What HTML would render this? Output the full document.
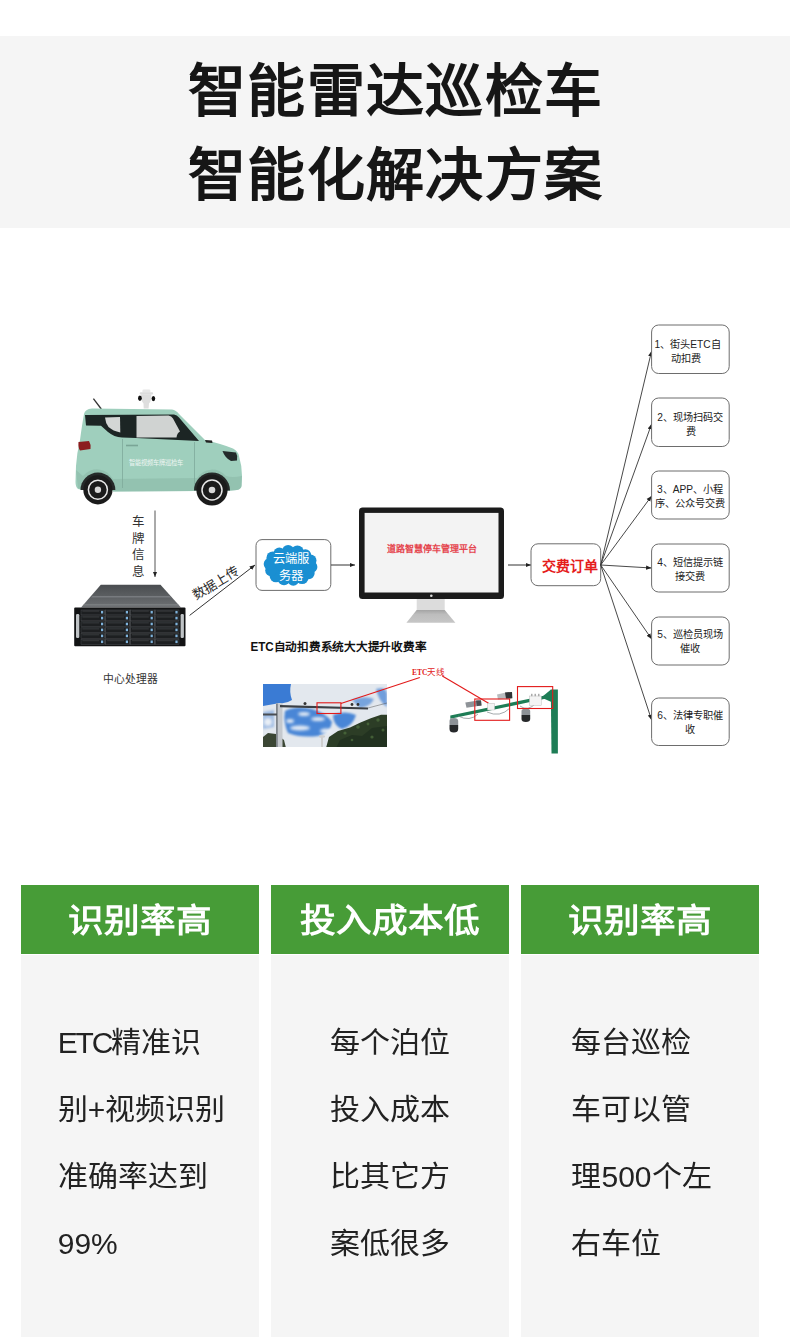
<!DOCTYPE html>
<html lang="zh-CN"><head><meta charset="utf-8">
<style>
*{margin:0;padding:0;box-sizing:border-box}
html,body{width:790px;height:1337px;background:#fff;overflow:hidden}
body{font-family:"Liberation Sans",sans-serif;color:#1c1c1c;position:relative}
.band{position:absolute;left:0;top:36px;width:790px;height:192px;background:#f5f5f5}
.t{position:absolute;left:0;width:790px;text-align:center;font-weight:bold;font-size:58px;line-height:60px;letter-spacing:1.4px;text-indent:1.4px;color:#161616;white-space:nowrap;transform:scaleY(0.975)}
.col{position:absolute;top:885px;width:238px;height:452px}
.hd{height:69px;background:#479c37;color:#fff;text-align:center;font-size:35.6px;font-weight:bold;line-height:69px;overflow:hidden}
.hd span{display:inline-block;transform:scaleY(0.915);transform-origin:50% 50%;position:relative;top:2px}
.bd{position:absolute;top:70px;left:0;width:238px;height:382px;background:#f5f5f5;text-align:center}
.bd .in{display:inline-block;text-align:left;font-size:30px;line-height:69.4px;margin-top:53.5px;color:#222;position:relative;transform:scaleY(0.97);transform-origin:50% 0}
#dg{position:absolute;left:0;top:228px}
</style></head><body>
<div class="band"></div>
<div class="t" style="top:61.2px">智能雷达巡检车</div>
<div class="t" style="top:144.8px">智能化解决方案</div>

<svg id="dg" width="790" height="640" viewBox="0 228 790 640">
<defs>
<marker id="ah" viewBox="0 0 10 10" refX="10" refY="5" markerWidth="5.5" markerHeight="5.5" orient="auto" markerUnits="userSpaceOnUse"><path d="M0,1 L10,5 L0,9 z" fill="#222"/></marker>
<linearGradient id="skyg" x1="0" y1="0" x2="0" y2="1"><stop offset="0" stop-color="#3c7fd0"/><stop offset="1" stop-color="#6aa6e0"/></linearGradient>
<filter id="bl1" x="-20%" y="-20%" width="140%" height="140%"><feGaussianBlur stdDeviation="1.6"/></filter>
<filter id="bl05"><feGaussianBlur stdDeviation="0.5"/></filter>
<clipPath id="phc"><rect x="263" y="684" width="124" height="63"/></clipPath>
</defs>
<!-- CAR -->
<g id="car">
<line x1="93.4" y1="398.7" x2="101.3" y2="409" stroke="#333" stroke-width="1.3"/>
<!-- camera -->
<rect x="142.4" y="389.6" width="8" height="3" rx="1.2" fill="#e6e6e6"/>
<rect x="139.7" y="392.3" width="13.4" height="2.2" rx="1" fill="#dcdcdc"/>
<path d="M141,394.3 L151.3,394.3 Q152,400 149,403.6 L148.6,408.5 L143.7,408.5 L143.5,403.6 Q140.5,400 141,394.3 Z" fill="#dedede"/>
<ellipse cx="139.9" cy="398.3" rx="1.9" ry="2.7" fill="#111"/>
<ellipse cx="153.4" cy="398.6" rx="1.8" ry="2.6" fill="#111"/>
<!-- body -->
<path d="M84,414 Q85,409 92,408.5 L172,409.5 Q176,410 179,414 L205,440 Q222,444 233,448.5 Q238,451 239,456 Q242,466 242,476 L241.5,486 Q241,489 237,490 L226,491 A16,16 0 0 0 197,491 L113,491.5 A16,16 0 0 0 83,490 L78,489 Q75.5,487 75.5,482 L76,466 Q77,452 80,440 Q82,425 84,414 Z" fill="#9fcfbd"/>
<!-- darker lower shading -->
<path d="M76,470 Q77,480 78,488 L83,490 A16,16 0 0 1 113,491.5 L197,491 A16,16 0 0 1 226,491 L237,490 Q241,489 241.5,486 L242,476 Q232,478 226,476 A18,18 0 0 0 197,478 L113,479 A18,18 0 0 0 83,476 Z" fill="#8fbcab" opacity="0.7"/>
<!-- windows band -->
<path d="M85,415 L174,414.5 Q177,415 179,417.5 L199,441 L136,438 L122,437.5 Q114,437 108,432 L101,425.8 L86,425.5 Z" fill="#1c2524"/>
<path d="M105,417.5 L120,417 L120.3,432.5 Q113,431 108.5,427 Q105.5,423 105,417.5 Z" fill="#d3d6d5"/>
<path d="M136.5,416 L168.5,415.6 Q171.5,416 173,418.5 L180,431.5 Q177,433 176.5,437.6 L136.5,437.6 Z" fill="#d0d3d2"/>
<!-- tail light -->
<path d="M78.5,442 L89,441 Q91,444 90.5,449 L80,450.5 Q78,448 78.5,442 Z" fill="#8b1d1f"/>
<!-- headlight -->
<path d="M222.5,451 L236,452.5 Q238,456 237,460.5 L231,461 Q225,458 222.5,451 Z" fill="#242b2b"/>
<!-- mirror -->
<path d="M205,440 L212,440.5 L212.5,443 L206,442.5 Z" fill="#222"/>
<!-- door lines -->
<path d="M122.5,439 L122.5,488 M194.5,442 L194.5,490" stroke="#7fa99a" stroke-width="0.8" fill="none"/>
<path d="M126,445.5 L138,445.5" stroke="#7aa596" stroke-width="1.6"/>
<!-- car text -->
<text x="128.5" y="465" font-size="7.2" fill="#eef5f2" textLength="55" lengthAdjust="spacingAndGlyphs">智能视频车牌巡检车</text>
<!-- wheels -->
<path d="M80.5,490 A17.4,17.4 0 0 1 115.3,490 Z" fill="#262a29"/>
<path d="M194,490.5 A18,18 0 0 1 230,490.5 Z" fill="#262a29"/>
<circle cx="97.9" cy="489.8" r="14.6" fill="#1b1b1b"/>
<circle cx="97.9" cy="489.8" r="9.5" fill="none" stroke="#e8e8e8" stroke-width="1.5"/>
<circle cx="97.9" cy="489.8" r="3.2" fill="#d8d8d8"/>
<circle cx="212" cy="490" r="15.6" fill="#1b1b1b"/>
<circle cx="212" cy="490" r="10" fill="none" stroke="#e8e8e8" stroke-width="1.5"/>
<circle cx="212" cy="490" r="3.3" fill="#d8d8d8"/>
</g>

<!-- plate info arrow -->
<line x1="155" y1="510.5" x2="155" y2="577" stroke="#555" stroke-width="1" marker-end="url(#ah)"/>
<g font-size="12.5" fill="#333" text-anchor="middle">
<text x="138.2" y="526.2">车</text><text x="138.2" y="542.7">牌</text><text x="138.2" y="559.2">信</text><text x="138.2" y="575.7">息</text>
</g>
<!-- SERVER -->
<g id="server">
<linearGradient id="stg" x1="0" y1="0" x2="0" y2="1"><stop offset="0" stop-color="#4a4d50"/><stop offset="0.55" stop-color="#5d6063"/><stop offset="1" stop-color="#6e7174"/></linearGradient>
<path d="M100.8,584.7 L160.5,584.7 L181,607.5 L81,607.5 Z" fill="url(#stg)"/>
<path d="M92.5,596 L169.5,596 L171,597.6 L91,597.6 Z" fill="#85888b" opacity="0.7"/>
<path d="M84,604 L178,604 L179.5,605.6 L82.5,605.6 Z" fill="#8a8d90" opacity="0.5"/>
<rect x="74.2" y="607.5" width="111.3" height="38.8" rx="1" fill="#121314"/>
<rect x="81.0" y="610.0" width="23.6" height="4.9" fill="#1d1f21" stroke="#4a4d50" stroke-width="0.5"/>
<rect x="101.0" y="610.9" width="2.2" height="2.6" fill="#7fb3dc"/>
<line x1="82.4" y1="611.1" x2="99.2" y2="611.1" stroke="#55585b" stroke-width="0.5"/>
<rect x="81.0" y="615.9" width="23.6" height="4.9" fill="#1d1f21" stroke="#4a4d50" stroke-width="0.5"/>
<rect x="101.0" y="616.8" width="2.2" height="2.6" fill="#7fb3dc"/>
<line x1="82.4" y1="617.0" x2="99.2" y2="617.0" stroke="#55585b" stroke-width="0.5"/>
<rect x="81.0" y="621.8" width="23.6" height="4.9" fill="#1d1f21" stroke="#4a4d50" stroke-width="0.5"/>
<rect x="101.0" y="622.7" width="2.2" height="2.6" fill="#7fb3dc"/>
<line x1="82.4" y1="622.9" x2="99.2" y2="622.9" stroke="#55585b" stroke-width="0.5"/>
<rect x="81.0" y="627.8" width="23.6" height="4.9" fill="#1d1f21" stroke="#4a4d50" stroke-width="0.5"/>
<rect x="101.0" y="628.6" width="2.2" height="2.6" fill="#7fb3dc"/>
<line x1="82.4" y1="628.9" x2="99.2" y2="628.9" stroke="#55585b" stroke-width="0.5"/>
<rect x="81.0" y="633.7" width="23.6" height="4.9" fill="#1d1f21" stroke="#4a4d50" stroke-width="0.5"/>
<rect x="101.0" y="634.6" width="2.2" height="2.6" fill="#7fb3dc"/>
<line x1="82.4" y1="634.8" x2="99.2" y2="634.8" stroke="#55585b" stroke-width="0.5"/>
<rect x="81.0" y="639.6" width="23.6" height="4.9" fill="#1d1f21" stroke="#4a4d50" stroke-width="0.5"/>
<rect x="101.0" y="640.5" width="2.2" height="2.6" fill="#7fb3dc"/>
<line x1="82.4" y1="640.7" x2="99.2" y2="640.7" stroke="#55585b" stroke-width="0.5"/>
<rect x="105.8" y="610.0" width="23.6" height="4.9" fill="#1d1f21" stroke="#4a4d50" stroke-width="0.5"/>
<rect x="125.8" y="610.9" width="2.2" height="2.6" fill="#7fb3dc"/>
<line x1="107.2" y1="611.1" x2="124.0" y2="611.1" stroke="#55585b" stroke-width="0.5"/>
<rect x="105.8" y="615.9" width="23.6" height="4.9" fill="#1d1f21" stroke="#4a4d50" stroke-width="0.5"/>
<rect x="125.8" y="616.8" width="2.2" height="2.6" fill="#7fb3dc"/>
<line x1="107.2" y1="617.0" x2="124.0" y2="617.0" stroke="#55585b" stroke-width="0.5"/>
<rect x="105.8" y="621.8" width="23.6" height="4.9" fill="#1d1f21" stroke="#4a4d50" stroke-width="0.5"/>
<rect x="125.8" y="622.7" width="2.2" height="2.6" fill="#7fb3dc"/>
<line x1="107.2" y1="622.9" x2="124.0" y2="622.9" stroke="#55585b" stroke-width="0.5"/>
<rect x="105.8" y="627.8" width="23.6" height="4.9" fill="#1d1f21" stroke="#4a4d50" stroke-width="0.5"/>
<rect x="125.8" y="628.6" width="2.2" height="2.6" fill="#7fb3dc"/>
<line x1="107.2" y1="628.9" x2="124.0" y2="628.9" stroke="#55585b" stroke-width="0.5"/>
<rect x="105.8" y="633.7" width="23.6" height="4.9" fill="#1d1f21" stroke="#4a4d50" stroke-width="0.5"/>
<rect x="125.8" y="634.6" width="2.2" height="2.6" fill="#7fb3dc"/>
<line x1="107.2" y1="634.8" x2="124.0" y2="634.8" stroke="#55585b" stroke-width="0.5"/>
<rect x="105.8" y="639.6" width="23.6" height="4.9" fill="#1d1f21" stroke="#4a4d50" stroke-width="0.5"/>
<rect x="125.8" y="640.5" width="2.2" height="2.6" fill="#7fb3dc"/>
<line x1="107.2" y1="640.7" x2="124.0" y2="640.7" stroke="#55585b" stroke-width="0.5"/>
<rect x="130.6" y="610.0" width="23.6" height="4.9" fill="#1d1f21" stroke="#4a4d50" stroke-width="0.5"/>
<rect x="150.6" y="610.9" width="2.2" height="2.6" fill="#7fb3dc"/>
<line x1="132.0" y1="611.1" x2="148.8" y2="611.1" stroke="#55585b" stroke-width="0.5"/>
<rect x="130.6" y="615.9" width="23.6" height="4.9" fill="#1d1f21" stroke="#4a4d50" stroke-width="0.5"/>
<rect x="150.6" y="616.8" width="2.2" height="2.6" fill="#7fb3dc"/>
<line x1="132.0" y1="617.0" x2="148.8" y2="617.0" stroke="#55585b" stroke-width="0.5"/>
<rect x="130.6" y="621.8" width="23.6" height="4.9" fill="#1d1f21" stroke="#4a4d50" stroke-width="0.5"/>
<rect x="150.6" y="622.7" width="2.2" height="2.6" fill="#7fb3dc"/>
<line x1="132.0" y1="622.9" x2="148.8" y2="622.9" stroke="#55585b" stroke-width="0.5"/>
<rect x="130.6" y="627.8" width="23.6" height="4.9" fill="#1d1f21" stroke="#4a4d50" stroke-width="0.5"/>
<rect x="150.6" y="628.6" width="2.2" height="2.6" fill="#7fb3dc"/>
<line x1="132.0" y1="628.9" x2="148.8" y2="628.9" stroke="#55585b" stroke-width="0.5"/>
<rect x="130.6" y="633.7" width="23.6" height="4.9" fill="#1d1f21" stroke="#4a4d50" stroke-width="0.5"/>
<rect x="150.6" y="634.6" width="2.2" height="2.6" fill="#7fb3dc"/>
<line x1="132.0" y1="634.8" x2="148.8" y2="634.8" stroke="#55585b" stroke-width="0.5"/>
<rect x="130.6" y="639.6" width="23.6" height="4.9" fill="#1d1f21" stroke="#4a4d50" stroke-width="0.5"/>
<rect x="150.6" y="640.5" width="2.2" height="2.6" fill="#7fb3dc"/>
<line x1="132.0" y1="640.7" x2="148.8" y2="640.7" stroke="#55585b" stroke-width="0.5"/>
<rect x="155.4" y="610.0" width="23.6" height="4.9" fill="#1d1f21" stroke="#4a4d50" stroke-width="0.5"/>
<rect x="175.4" y="610.9" width="2.2" height="2.6" fill="#7fb3dc"/>
<line x1="156.8" y1="611.1" x2="173.6" y2="611.1" stroke="#55585b" stroke-width="0.5"/>
<rect x="155.4" y="615.9" width="23.6" height="4.9" fill="#1d1f21" stroke="#4a4d50" stroke-width="0.5"/>
<rect x="175.4" y="616.8" width="2.2" height="2.6" fill="#7fb3dc"/>
<line x1="156.8" y1="617.0" x2="173.6" y2="617.0" stroke="#55585b" stroke-width="0.5"/>
<rect x="155.4" y="621.8" width="23.6" height="4.9" fill="#1d1f21" stroke="#4a4d50" stroke-width="0.5"/>
<rect x="175.4" y="622.7" width="2.2" height="2.6" fill="#7fb3dc"/>
<line x1="156.8" y1="622.9" x2="173.6" y2="622.9" stroke="#55585b" stroke-width="0.5"/>
<rect x="155.4" y="627.8" width="23.6" height="4.9" fill="#1d1f21" stroke="#4a4d50" stroke-width="0.5"/>
<rect x="175.4" y="628.6" width="2.2" height="2.6" fill="#7fb3dc"/>
<line x1="156.8" y1="628.9" x2="173.6" y2="628.9" stroke="#55585b" stroke-width="0.5"/>
<rect x="155.4" y="633.7" width="23.6" height="4.9" fill="#1d1f21" stroke="#4a4d50" stroke-width="0.5"/>
<rect x="175.4" y="634.6" width="2.2" height="2.6" fill="#7fb3dc"/>
<line x1="156.8" y1="634.8" x2="173.6" y2="634.8" stroke="#55585b" stroke-width="0.5"/>
<rect x="155.4" y="639.6" width="23.6" height="4.9" fill="#1d1f21" stroke="#4a4d50" stroke-width="0.5"/>
<rect x="175.4" y="640.5" width="2.2" height="2.6" fill="#7fb3dc"/>
<line x1="156.8" y1="640.7" x2="173.6" y2="640.7" stroke="#55585b" stroke-width="0.5"/>
<line x1="105.2" y1="609.5" x2="105.2" y2="645" stroke="#5a5d60" stroke-width="0.7"/>
<line x1="130.0" y1="609.5" x2="130.0" y2="645" stroke="#5a5d60" stroke-width="0.7"/>
<line x1="154.8" y1="609.5" x2="154.8" y2="645" stroke="#5a5d60" stroke-width="0.7"/>
<rect x="76" y="614" width="3.3" height="24" rx="1.2" fill="#bfc3c6"/>
<rect x="180.6" y="614" width="3.3" height="24" rx="1.2" fill="#bfc3c6"/>
</g>
<!-- cpu label -->
<text x="130.6" y="683.2" font-size="10.8" fill="#333" text-anchor="middle">中心处理器</text>
<!-- data upload line -->
<line x1="189.6" y1="615.4" x2="255" y2="565" stroke="#333" stroke-width="1" marker-end="url(#ah)"/>
<text transform="translate(195.6,600.4) rotate(-31)" font-size="13" fill="#2a2a2a">数据上传</text>
<!-- cloud box -->
<rect x="256" y="539.6" width="74.8" height="50.8" rx="6" fill="#fff" stroke="#6d6d6d" stroke-width="1"/>
<g fill="#1a8fd2">
<ellipse cx="290.7" cy="565.5" rx="22" ry="16"/>
<circle cx="311.6" cy="566.9" r="5.8"/>
<circle cx="308.6" cy="573.1" r="6.1"/>
<circle cx="302.1" cy="577.7" r="6.4"/>
<circle cx="293.3" cy="579.9" r="5.8"/>
<circle cx="284.0" cy="579.2" r="6.1"/>
<circle cx="276.0" cy="575.9" r="6.4"/>
<circle cx="271.0" cy="570.5" r="5.8"/>
<circle cx="269.8" cy="564.1" r="6.1"/>
<circle cx="272.8" cy="557.9" r="6.4"/>
<circle cx="279.3" cy="553.3" r="5.8"/>
<circle cx="288.1" cy="551.1" r="6.1"/>
<circle cx="297.4" cy="551.8" r="6.4"/>
<circle cx="305.4" cy="555.1" r="5.8"/>
<circle cx="310.4" cy="560.5" r="6.1"/>
</g>
<g font-size="12.3" fill="#fff" text-anchor="middle"><text x="291" y="562.6">云端服</text><text x="290.8" y="579.6">务器</text></g>
<line x1="331" y1="565" x2="355" y2="565" stroke="#333" stroke-width="1" marker-end="url(#ah)"/>
<!-- MONITOR -->
<rect x="359" y="507.5" width="145" height="91.5" rx="3.5" fill="#1b1b1b"/>
<rect x="364.6" y="512.9" width="133.9" height="79.6" fill="#f3f3f3"/>
<circle cx="431.3" cy="595.8" r="1.3" fill="#ddd"/>
<linearGradient id="bsg" x1="0" y1="0" x2="0" y2="1"><stop offset="0" stop-color="#a4a4a4"/><stop offset="0.35" stop-color="#bdbdbd"/><stop offset="1" stop-color="#c6c6c6"/></linearGradient>
<path d="M416.7,599 L444.7,599 L444.7,611 L416.7,611 Z" fill="#dcdcdc"/>
<path d="M416.7,610 L444.7,610 L455.4,622.7 L406.4,622.7 Z" fill="url(#bsg)"/>
<text x="431.7" y="552.3" font-size="9" fill="#e5464f" text-anchor="middle" font-weight="bold">道路智慧停车管理平台</text>
<line x1="508" y1="565" x2="531" y2="565" stroke="#333" stroke-width="1" marker-end="url(#ah)"/>
<!-- ORDER -->
<rect x="531" y="543.8" width="69.7" height="41.9" rx="7" fill="#fff" stroke="#6d6d6d" stroke-width="1"/>
<text x="570" y="571" font-size="14" fill="#e51c1c" text-anchor="middle" font-weight="bold">交费订单</text>
<!-- FAN -->
<g stroke="#333" stroke-width="0.9" marker-end="url(#ah)">
<line x1="600.7" y1="565" x2="651.6" y2="351"/>
<line x1="600.7" y1="565" x2="651.6" y2="424"/>
<line x1="600.7" y1="565" x2="651.6" y2="496"/>
<line x1="600.7" y1="565" x2="651.6" y2="568"/>
<line x1="600.7" y1="565" x2="651.6" y2="639"/>
<line x1="600.7" y1="565" x2="651.6" y2="720"/>
</g>
<g fill="#fff" stroke="#6d6d6d" stroke-width="1">
<rect x="651.6" y="325" width="77.6" height="48.5" rx="7"/>
<rect x="651.6" y="398" width="77.6" height="48.5" rx="7"/>
<rect x="651.6" y="471" width="77.6" height="48" rx="7"/>
<rect x="651.6" y="544" width="77.6" height="48" rx="7"/>
<rect x="651.6" y="617" width="77.6" height="48" rx="7"/>
<rect x="651.6" y="698" width="77.6" height="47.5" rx="7"/>
</g>
<g font-size="10.2" fill="#222" text-anchor="middle">
<text x="687.5" y="347.5">1、街头ETC自</text><text x="686" y="361.5">动扣费</text>
<text x="690" y="420.5">2、现场扫码交</text><text x="690.5" y="434.5">费</text>
<text x="690" y="492.5">3、APP、小程</text><text x="690" y="506.5">序、公众号交费</text>
<text x="690" y="565.5">4、短信提示链</text><text x="690" y="579.5">接交费</text>
<text x="690" y="638.2">5、巡检员现场</text><text x="690" y="652.2">催收</text>
<text x="690" y="718.8">6、法律专职催</text><text x="690" y="732.8">收</text>
</g>
<!-- ETC title -->
<text x="250.4" y="651" font-size="11.9" font-weight="bold" fill="#111" textLength="176" lengthAdjust="spacingAndGlyphs">ETC自动扣费系统大大提升收费率</text>
<!-- left photo -->
<g clip-path="url(#phc)">
<rect x="263" y="684" width="124" height="63" fill="#e3e8ee"/>
<path d="M263,684 L291,684 Q289,692 292,700 Q286,704 280,703 L263,706 Z" fill="#3a7bd4"/>
<filter id="bl12"><feGaussianBlur stdDeviation="1.2"/></filter>
<g fill="#4a86d6" filter="url(#bl12)">
<path d="M285,711 Q296,705 312,709 Q326,713 332,722 Q331,732 318,736 Q300,738 288,733 Q283,722 285,711 Z"/>
<path d="M333,715 Q345,710 356,715 Q353,726 342,729 Q333,725 333,715 Z"/>
<path d="M263,712 L274,710 L274,727 L263,729 Z" opacity="0.45"/>
<path d="M352,700 Q364,695 374,699 Q370,707 360,708 Z" opacity="0.7"/>
<path d="M376,689 Q386,686 387,694 L387,707 Q379,702 376,689 Z" opacity="0.75"/>
</g>
<g fill="#eef2f7" filter="url(#bl1)" opacity="0.95">
<ellipse cx="300" cy="728" rx="10" ry="2.5"/><ellipse cx="318" cy="719" rx="7" ry="2"/><ellipse cx="268" cy="722" rx="4" ry="4"/>
<ellipse cx="304" cy="714" rx="6" ry="2"/><ellipse cx="326" cy="731" rx="6" ry="2.5"/><ellipse cx="290" cy="721" rx="4" ry="2"/>
</g>
<path d="M326,748 L329,737 L338,731 L350,727.6 L360.5,722.4 L370.8,718.2 L381,714.7 L387,714.7 L387,748 Z" fill="#2c3d26"/>
<path d="M336,748 L340,740 L352,735 L362,736 L372,728 L387,726 L387,748 Z" fill="#223220"/>
<path d="M263,737 L268,733 L276,734 L284,740 L286,748 L263,748 Z" fill="#3b4634"/>
<g fill="#4b6a3c" opacity="0.8"><circle cx="345" cy="733" r="1.6"/><circle cx="358" cy="727" r="1.8"/><circle cx="368" cy="724" r="1.4"/><circle cx="378" cy="720" r="1.7"/><circle cx="383" cy="730" r="1.5"/><circle cx="352" cy="740" r="1.3"/><circle cx="372" cy="737" r="1.6"/></g>
<rect x="276" y="703.5" width="6.5" height="44" fill="#c5c9ce"/>
<rect x="276" y="703.5" width="1.8" height="44" fill="#80868c"/>
<path d="M280,705 L368,707.5 L368,709.5 L280,707.3 Z" fill="#3b3f44"/>
<circle cx="305" cy="703.5" r="1.5" fill="#333"/><circle cx="352" cy="704.5" r="1.4" fill="#333"/><circle cx="358" cy="704.5" r="1.4" fill="#333"/>
<rect x="263" y="713.5" width="14" height="2" fill="#4a4e53"/>
<rect x="321" y="737" width="2" height="10" fill="#cfcfcf"/>
<ellipse cx="322" cy="736.5" rx="3.2" ry="1.3" fill="#cfcfcf"/>
<line x1="368" y1="708" x2="387" y2="703" stroke="#555" stroke-width="0.5"/>
</g>
<rect x="317" y="702.8" width="23.9" height="10.7" fill="none" stroke="#e21a1a" stroke-width="1.1"/>
<line x1="340.9" y1="703.6" x2="419.8" y2="677.5" stroke="#e21a1a" stroke-width="1.1"/>
<text x="411.9" y="674.5" font-size="7.5" fill="#e21a1a" font-family="Liberation Serif,serif" font-weight="bold">ETC<tspan font-weight="normal" font-size="8.5">天线</tspan></text>
<line x1="442.3" y1="676" x2="488.6" y2="703.3" stroke="#e21a1a" stroke-width="1.1"/>
<!-- right pole photo -->
<g>
<path d="M550.8,689.5 L557.9,689.5 L557.9,753.6 L551.5,753.6 Z" fill="#1e7d56"/>
<path d="M541.3,697.4 L551,689.5 L552,702.2 Z" fill="#1e7d56"/>
<path d="M450.3,715.5 L551,694.3 L551,697.6 L450.3,718.8 Z" fill="#1e7d56"/>
<path d="M458,716 Q470,722 478,714 M487,712 Q500,718 510,708 M520,706 Q528,712 536,703" stroke="#7d8488" stroke-width="0.7" fill="none"/>
<path d="M449.5,721 Q449.5,718 453.8,718 Q458.2,718 458.2,721 L458.2,725 L449.5,725 Z" fill="#8d9297"/>
<path d="M449.5,725 L458.2,725 L458.2,729 Q458.2,732.5 453.8,732.5 Q449.5,732.5 449.5,729 Z" fill="#26282a"/>
<path d="M521.5,711 Q521.5,708.5 525.8,708.5 Q530.2,708.5 530.2,711 L530.2,715 L521.5,715 Z" fill="#8d9297"/>
<path d="M521.5,715 L530.2,715 L530.2,719 Q530.2,722 525.8,722 Q521.5,722 521.5,719 Z" fill="#26282a"/>
<path d="M465.3,702.5 L478,700.4 L481,701 L481.5,705.5 L466.5,707.8 Z" fill="#8e9398"/>
<path d="M476,700.6 L481,700.2 L481.5,705.5 L477,706 Z" fill="#4a4e52"/>
<path d="M497,694.5 L508,692 L512,692.3 L512.3,698 L498,699.5 Z" fill="#b9bcbf"/>
<path d="M505,692.6 L512,691.9 L512.3,698.3 L506,698.8 Z" fill="#303336"/>
<rect x="487.5" y="703.2" width="7.1" height="6.8" fill="#f4f4f4" stroke="#b0b0b0" stroke-width="0.4"/>
<rect x="529.4" y="696" width="11.9" height="9.3" fill="#f4f4f4" stroke="#b0b0b0" stroke-width="0.4"/>
<rect x="531" y="693.8" width="1.5" height="2.4" fill="#aaa"/><rect x="534.5" y="693.8" width="1.5" height="2.4" fill="#aaa"/><rect x="538" y="693.8" width="1.5" height="2.4" fill="#aaa"/>
</g>
<rect x="474.8" y="699" width="34.8" height="21.3" fill="none" stroke="#e21a1a" stroke-width="1.1"/>
<rect x="517.5" y="686.6" width="35.2" height="21.9" fill="none" stroke="#e21a1a" stroke-width="1.1"/>
</svg>

<div class="col" style="left:21px"><div class="hd"><span>识别率高</span></div><div class="bd"><div class="in" style="left:1.5px"><span style="letter-spacing:-2.2px">ETC</span>精准识<br>别+视频识别<br>准确率达到<br>99%</div></div></div>
<div class="col" style="left:271px"><div class="hd"><span>投入成本低</span></div><div class="bd"><div class="in">每个泊位<br>投入成本<br>比其它方<br>案低很多</div></div></div>
<div class="col" style="left:521px"><div class="hd"><span>识别率高</span></div><div class="bd"><div class="in" style="left:1.5px">每台巡检<br>车可以管<br>理500个左<br>右车位</div></div></div>
</body></html>
